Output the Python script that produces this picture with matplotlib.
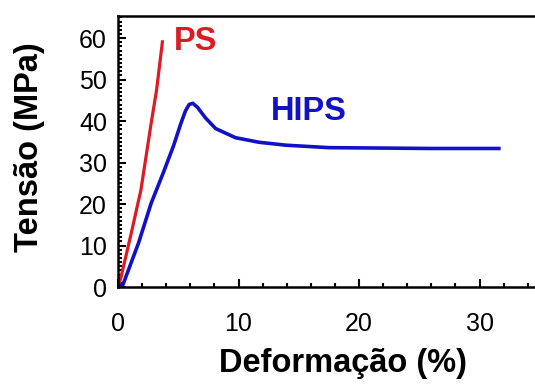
import numpy as np
import matplotlib
matplotlib.use('Agg')
import matplotlib.pyplot as plt
from matplotlib.ticker import MultipleLocator

matplotlib.rcParams.update({
    'font.family': 'Liberation Sans',
    'font.size': 18,
})

# stress-strain data
ps_strain = [0.0, 0.25, 1.1, 1.9, 2.75, 3.2, 3.7]
ps_stress = [0.0, 2.4, 13.0, 23.4, 39.5, 47.5, 59.5]

hips_strain = [0.0, 0.4, 1.7, 2.75, 3.75, 4.6, 5.2, 5.6, 5.9, 6.2, 6.6, 7.25, 8.1, 9.75, 11.7, 13.9, 17.5, 22.0, 26.0, 31.6]
hips_stress = [0.0, 0.5, 10.6, 20.2, 27.5, 34.0, 39.3, 42.5, 44.0, 44.3, 43.3, 40.8, 38.2, 36.0, 34.9, 34.2, 33.6, 33.5, 33.4, 33.4]

red = '#dc1c24'
blue = '#1212c4'

fig = plt.figure(figsize=(5.35, 3.85), dpi=100)
ax = fig.add_axes([0.2206, 0.2545, 0.7794, 0.7035])

ax.plot(ps_strain, ps_stress, color=red, lw=2.3, solid_capstyle='butt')
ax.plot(hips_strain, hips_stress, color=blue, lw=2.6, solid_joinstyle='round')

ax.text(4.6, 59.2, 'PS', color=red, fontsize=23.5, fontweight='bold', va='center', ha='left')
ax.text(12.7, 42.3, 'HIPS', color=blue, fontsize=23.5, fontweight='bold', va='center', ha='left')

ax.set_xlim(0, 34.6)
ax.set_ylim(0, 65.3)
ax.xaxis.set_major_locator(MultipleLocator(10))
ax.xaxis.set_minor_locator(MultipleLocator(2))
ax.yaxis.set_major_locator(MultipleLocator(10))
ax.yaxis.set_minor_locator(MultipleLocator(1))
ax.tick_params(which='both', direction='in', top=False, right=False, width=1.5)
ax.tick_params(which='major', length=6)
ax.tick_params(which='minor', length=3)
ax.tick_params(axis='y', pad=8, labelsize=18)
ax.tick_params(axis='x', pad=18, labelsize=18)
ax.spines['right'].set_visible(False)
for s in ['left', 'bottom', 'top']:
    ax.spines[s].set_linewidth(1.8)

ax.set_xlabel('Deformação (%)', fontsize=23.5, fontweight='bold')
ax.set_ylabel('Tensão (MPa)', fontsize=23.5, fontweight='bold')
ax.xaxis.set_label_coords(0.54, -0.226)
ax.yaxis.set_label_coords(-0.175, 0.515)
ax.xaxis.label.set_va('top')

plt.savefig('out.png', dpi=100)
